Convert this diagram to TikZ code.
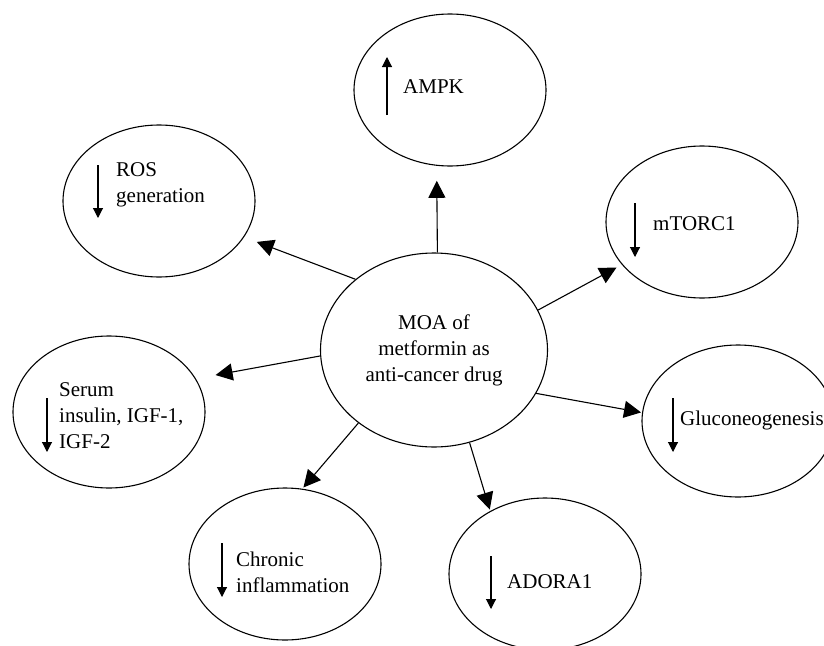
\documentclass[tikz,border=0pt]{standalone}
\usepackage{fontspec}
\setmainfont{Liberation Serif}
\usetikzlibrary{shapes.geometric,arrows.meta}

\newcommand*{\ellW}{192pt}
\newcommand*{\ellH}{152pt}

\tikzset{
	effect/.style={draw, ellipse, line width=1.1pt, minimum width=\ellW, minimum height=\ellH, inner sep=0pt},
	moabox/.style={draw, ellipse, line width=1.1pt, minimum width=227pt, minimum height=194pt, align=center, inner sep=0pt},
	lbl/.style={anchor=west, align=left, inner sep=0pt},
	conn/.style={-{Triangle[length=17pt,width=17pt]}, line width=1.1pt},
	updown/.style={-{Triangle[length=10pt,width=10pt]}, line width=1.1pt}
}

\begin{document}
\begin{tikzpicture}[x=1pt, y=-1pt, every node/.style={font=\fontsize{21}{26}\selectfont}]
	\useasboundingbox (0,0) rectangle (824,645);

	% centre
	\node[moabox] (moa) at (434,350) {MOA of\\metformin as\\anti-cancer drug};

	% effects
	\node[effect] (ampk) at (450,90) {};
	\node[effect] (ros) at (159,201) {};
	\node[effect] (mtorc) at (702,222) {};
	\node[effect] (serum) at (109,412) {};
	\node[effect] (gluco) at (738,421) {};
	\node[effect] (chronic) at (285,564) {};
	\node[effect] (adora) at (545,574) {};

	\node[lbl] (ampktxt) at (403,87) {AMPK};
	\node[lbl] (rostxt) at (116,185) {ROS\\generation};
	\node[lbl] (mtorctxt) at (653,224) {mTORC1};
	\node[lbl] (serumtxt) at (59,416) {Serum\\insulin, IGF-1,\\IGF-2};
	\node[lbl] (glucotxt) at (680,420) {Gluconeogenesis};
	\node[lbl] (chronictxt) at (236,572) {Chronic\\inflammation};
	\node[lbl] (adoratxt) at (507,582) {ADORA1};

	% up / down marks
	\draw[updown] (387,115) -- (387,57);
	\foreach \x/\ya/\yb in {98/165/218, 635/203/257, 47/398/452, 673/398/452, 222/543/597, 491/556/609} {
		\draw[updown] (\x,\ya) -- (\x,\yb);
	}

	% arrows out of the centre
	\draw[conn, shorten >=15pt] (moa.88) -- (ampk.260);
	\draw[conn, shorten >=13.5pt] (moa.138) -- (ros.337);
	\draw[conn, shorten >=6pt] (moa.21) -- (mtorc.208);
	\draw[conn, shorten >=20pt] (moa.183) -- (serum.21);
	\draw[conn, shorten >=1pt] (moa.337) -- (gluco.175);
	\draw[conn, shorten >=1.6pt] (moa.224) -- (chronic.77);
	\draw[conn, shorten >=1.5pt] (moa.291) -- (adora.131);

\end{tikzpicture}
\end{document}
